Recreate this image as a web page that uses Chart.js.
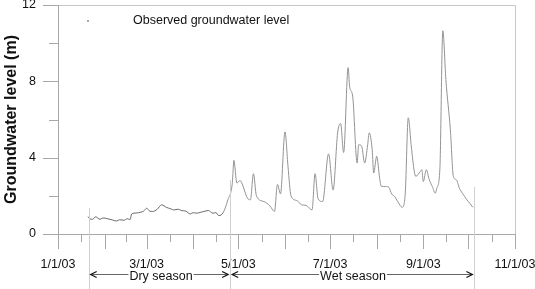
<!DOCTYPE html>
<html>
<head>
<meta charset="utf-8">
<script src="https://cdn.jsdelivr.net/npm/chart.js@4.4.1/dist/chart.umd.min.js"></script>
<style>
  html, body { margin: 0; padding: 0; background: #fff; }
  #wrap { width: 535px; height: 289px; }
</style>
</head>
<body>
<div id="wrap"><canvas id="chart"></canvas></div>
<script>
// days since 1 Jan 2003
const days = [20, 21, 23, 25, 28, 30, 33, 36, 39, 41, 44, 46, 48, 49, 52, 55, 57, 59, 61, 63, 66, 69, 72, 75, 77, 80, 82, 85, 88, 90, 92, 95, 97, 100, 103, 105, 107, 110, 113,
  116, 117, 119, 121, 126, 128, 130, 132, 137, 141, 144, 146, 148, 151, 153, 155, 159, 162, 165, 169, 171, 173, 176,
  180, 183, 186, 188, 190, 193, 194, 196, 199, 200, 202, 204, 206, 207, 209, 210, 212, 214, 215, 218, 220, 222, 224,
  226, 229, 231, 233, 235, 237, 238, 241, 242, 243, 245, 247, 249, 251, 252, 254, 256, 258, 261, 263, 265, 267, 269,
  272, 274, 276];
const levels = [0.91, 0.8, 0.77, 0.9, 0.77, 0.84, 0.8, 0.74, 0.68, 0.75, 0.72, 0.8, 0.76, 1.05, 1.1, 1.14, 1.2, 1.35, 1.2, 1.18, 1.3, 1.53, 1.4, 1.32, 1.26, 1.3, 1.23, 1.2, 1.05, 1.12, 1.09, 1.14, 1.18, 1.23, 1.09, 1.12, 0.96, 1.14, 1.79,
  2.7, 3.86, 2.67, 2.8, 1.88, 1.79, 3.16, 2.0, 1.7, 1.47, 1.18, 2.6, 2.1, 5.35, 3.54, 2.0, 1.75, 1.53, 1.5, 1.26, 3.16, 1.85, 1.7,
  4.2, 2.3, 5.3, 5.79, 4.27, 8.72, 7.72, 7.23, 3.72, 4.68, 4.6, 3.72, 4.68, 5.3, 4.42, 3.19, 4.07, 2.9, 2.5, 2.49, 2.45, 2.1, 1.96,
  1.7, 1.4, 2.14, 6.09, 4.6, 3.28, 3.02, 3.28, 3.37, 2.75, 3.37, 2.84, 2.49, 2.14, 2.4, 3.37, 10.65, 8.1, 5.47, 3.02, 2.84, 2.4, 2.14,
  1.79, 1.6, 1.4];

const monthStarts = [0, 31, 59, 90, 120, 151, 181, 212, 243, 273, 304];
const tickDays = [0, 59, 120, 181, 243, 304];
const tickLabels = ['1/1/03', '3/1/03', '5/1/03', '7/1/03', '9/1/03', '11/1/03'];
const yMajor = [0, 4, 8, 12];
const yMinor = [2, 6, 10];
const seasonBounds = [20.4, 114.5, 277];
const seasonNames = ['Dry season', 'Wet season'];
const seriesName = 'Observed groundwater level';

const FONT = '"Liberation Sans", Arial, sans-serif';
const AXIS = '#a8a8a8';

const decor = {
  id: 'decor',
  afterDraw(chart) {
    const { ctx, chartArea: a, scales: { x, y } } = chart;
    ctx.save();
    ctx.lineWidth = 1;
    ctx.strokeStyle = '#c8c8c8';
    ctx.beginPath();
    ctx.moveTo(a.left, a.top + 0.5);
    ctx.lineTo(a.right + 0.5, a.top + 0.5);
    ctx.lineTo(a.right + 0.5, a.bottom);
    ctx.stroke();

    // axis lines and tick marks
    ctx.strokeStyle = AXIS;
    ctx.beginPath();
    ctx.moveTo(a.left + 0.5, a.top);
    ctx.lineTo(a.left + 0.5, a.bottom + 0.5);
    ctx.lineTo(a.right, a.bottom + 0.5);
    monthStarts.forEach((d, i) => {
      const px = Math.round(x.getPixelForValue(d)) + 0.5;
      ctx.moveTo(px, a.bottom);
      ctx.lineTo(px, a.bottom + 15);
      if (i < monthStarts.length - 1) {
        const mx = Math.round(x.getPixelForValue((d + monthStarts[i + 1]) / 2)) + 0.5;
        ctx.moveTo(mx, a.bottom);
        ctx.lineTo(mx, a.bottom + 8);
      }
    });
    yMajor.forEach(v => {
      const py = Math.round(y.getPixelForValue(v)) + 0.5;
      ctx.moveTo(a.left - 15, py);
      ctx.lineTo(a.left, py);
    });
    yMinor.forEach(v => {
      const py = Math.round(y.getPixelForValue(v)) + 0.5;
      ctx.moveTo(a.left - 9, py);
      ctx.lineTo(a.left, py);
    });
    ctx.stroke();

    // tick labels
    ctx.fillStyle = '#111';
    ctx.font = '12.5px ' + FONT;
    ctx.textBaseline = 'middle';
    ctx.textAlign = 'right';
    yMajor.forEach(v => ctx.fillText(String(v), a.left - 22, y.getPixelForValue(v)));
    ctx.textAlign = 'center';
    tickDays.forEach((d, i) => ctx.fillText(tickLabels[i], x.getPixelForValue(d), a.bottom + 31));

    // season boundary lines
    const tops = [208, 180, 187];
    ctx.strokeStyle = '#d0d0d0';
    ctx.beginPath();
    seasonBounds.forEach((d, i) => {
      const px = Math.round(x.getPixelForValue(d)) + 0.5;
      ctx.moveTo(px, tops[i]);
      ctx.lineTo(px, chart.height);
    });
    ctx.stroke();

    // season arrows
    const ay = 274.5;
    for (let i = 0; i < 2; i++) {
      const x0 = x.getPixelForValue(seasonBounds[i]) + 2;
      const x1 = x.getPixelForValue(seasonBounds[i + 1]) - 2;
      ctx.strokeStyle = '#666';
      ctx.beginPath();
      ctx.moveTo(x0, ay);
      ctx.lineTo(x1, ay);
      ctx.stroke();
      ctx.strokeStyle = '#111';
      ctx.lineWidth = 1.2;
      ctx.beginPath();
      ctx.moveTo(x0 + 6, ay - 3);
      ctx.lineTo(x0, ay);
      ctx.lineTo(x0 + 6, ay + 3);
      ctx.moveTo(x1 - 6, ay - 3);
      ctx.lineTo(x1, ay);
      ctx.lineTo(x1 - 6, ay + 3);
      ctx.stroke();
      ctx.lineWidth = 1;
      const cx = i === 0 ? 161 : 353;
      const w = ctx.measureText(seasonNames[i]).width;
      ctx.fillStyle = '#fff';
      ctx.fillRect(cx - w / 2 - 1, ay - 3, w + 2, 12);
      ctx.fillStyle = '#111';
      ctx.fillText(seasonNames[i], cx, ay + 2);
    }

    // legend
    ctx.fillStyle = '#888';
    ctx.beginPath();
    ctx.arc(88, 21, 1, 0, Math.PI * 2);
    ctx.fill();
    ctx.fillStyle = '#111';
    ctx.textAlign = 'left';
    ctx.fillText(seriesName, 133, 21);
    ctx.restore();
  }
};

new Chart(document.getElementById('chart'), {
  type: 'line',
  data: {
    datasets: [{
      label: seriesName,
      data: days.map((d, i) => ({ x: d, y: levels[i] })),
      borderColor: '#8c8c8c',
      borderWidth: 1,
      pointRadius: 0,
      fill: false,
      cubicInterpolationMode: 'monotone',
      // dry-season record looks darker in the original (noisier trace)
      segment: { borderColor: c => c.p1.parsed.x <= 112 ? '#6a6a6a' : '#939393' }
    }]
  },
  options: {
    responsive: true,
    maintainAspectRatio: false,
    animation: false,
    layout: { padding: { top: 5, right: 20, left: 0, bottom: 0 } },
    plugins: { legend: { display: false }, tooltip: { enabled: false } },
    scales: {
      x: {
        type: 'linear',
        min: 0,
        max: 304,
        afterFit: s => { s.height = 55; },
        ticks: { display: false },
        grid: { display: false },
        border: { display: false }
      },
      y: {
        min: 0,
        max: 12,
        afterFit: s => { s.width = 58; },
        ticks: { display: false },
        grid: { display: false },
        border: { display: false },
        title: {
          display: true,
          text: 'Groundwater level (m)',
          color: '#111',
          font: { family: FONT, size: 16, weight: 'bold' },
          padding: { top: 2, bottom: 0 }
        }
      }
    }
  },
  plugins: [decor]
});
</script>
</body>
</html>
